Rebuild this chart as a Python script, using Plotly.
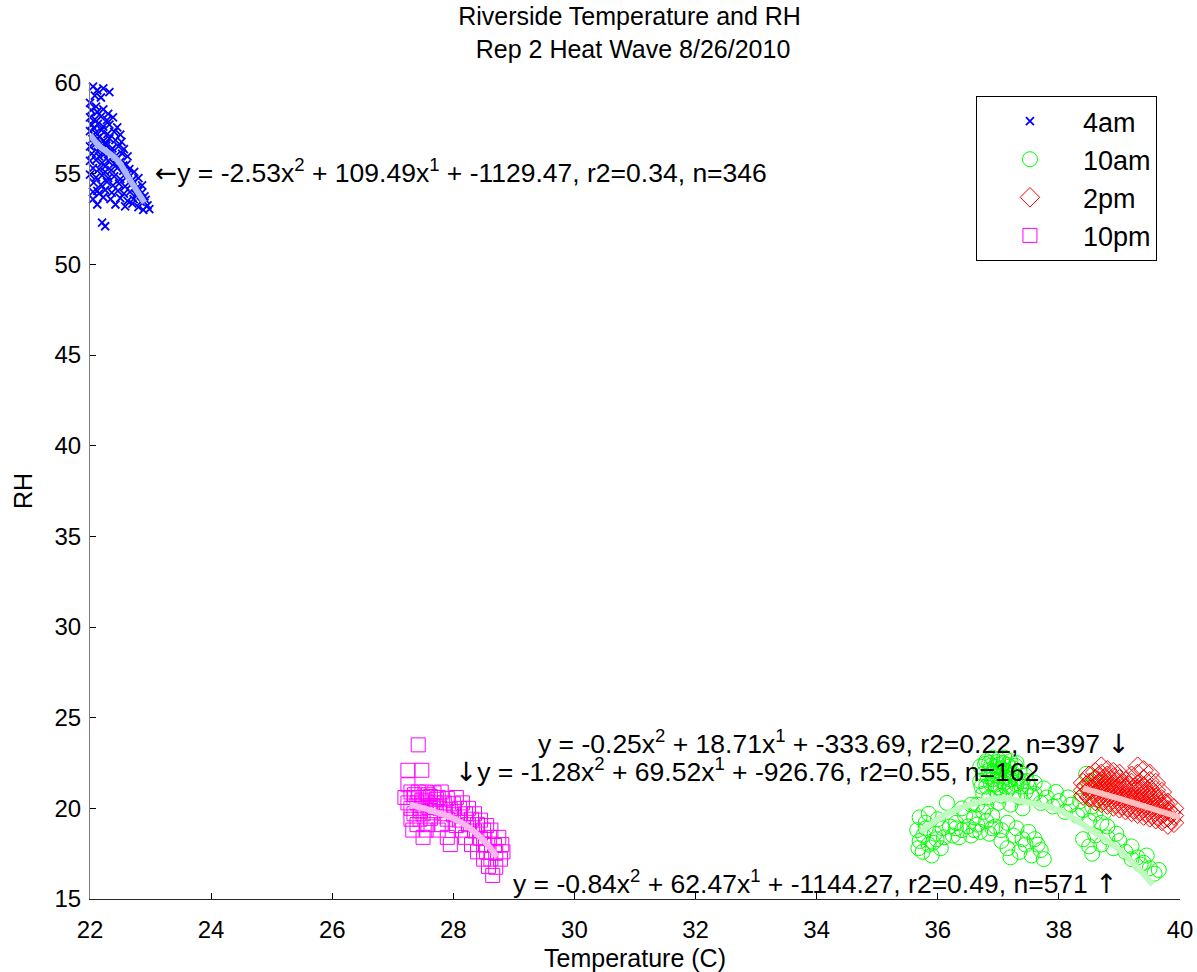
import plotly.graph_objects as go

# ---- measured temperature / RH pairs, one list per sampling hour ----
pts_4am = [
    (22.05, 59.8), (22.12, 59.6), (22.22, 59.7), (22.32, 59.5), (22.08, 59.3), (22.18, 59.2),
    (22.0, 58.9), (22.1, 58.7),
    (22.02, 58.5), (22.12, 58.4), (22.22, 58.55), (22.3, 58.3),
    (22.0, 58.1), (22.08, 58.0), (22.18, 58.15), (22.28, 57.95), (22.38, 58.1),
    (22.03, 57.7), (22.13, 57.75), (22.22, 57.6), (22.32, 57.7), (22.45, 57.55),
    (22.0, 57.35), (22.09, 57.25), (22.19, 57.4), (22.29, 57.2), (22.4, 57.3), (22.5, 57.15),
    (22.04, 56.9), (22.12, 56.95), (22.22, 56.8), (22.32, 56.95), (22.42, 56.85), (22.52, 56.75),
    (22.0, 56.5), (22.08, 56.6), (22.17, 56.45), (22.27, 56.55), (22.37, 56.4), (22.47, 56.5), (22.56, 56.35),
    (22.03, 56.1), (22.13, 56.2), (22.23, 56.05), (22.33, 56.15), (22.43, 56.0), (22.53, 56.1), (22.62, 55.95),
    (22.0, 55.7), (22.1, 55.75), (22.2, 55.6), (22.3, 55.7), (22.4, 55.55), (22.5, 55.65), (22.6, 55.5),
    (22.05, 55.3), (22.15, 55.25), (22.25, 55.4), (22.35, 55.2), (22.45, 55.3), (22.55, 55.15), (22.65, 55.25), (22.73, 55.1),
    (22.0, 54.95), (22.1, 54.8), (22.2, 54.9), (22.3, 54.75), (22.4, 54.85), (22.5, 54.7), (22.6, 54.8), (22.7, 54.65), (22.8, 54.75),
    (22.06, 54.5), (22.18, 54.4), (22.28, 54.55), (22.38, 54.35), (22.48, 54.45), (22.58, 54.3), (22.68, 54.4), (22.78, 54.25), (22.86, 54.35),
    (22.12, 54.05), (22.25, 54.1), (22.36, 53.95), (22.46, 54.05), (22.56, 53.9), (22.66, 54.0), (22.76, 53.85), (22.86, 53.95),
    (22.22, 53.7), (22.34, 53.6), (22.5, 53.65), (22.62, 53.5), (22.72, 53.6), (22.84, 53.45), (22.92, 53.55),
    (22.12, 53.3), (22.42, 53.3), (22.58, 53.2), (22.7, 53.35), (22.8, 53.15), (22.95, 53.25),
    (22.88, 53.0), (22.98, 53.05), (22.05, 53.6), (22.15, 53.9), (22.05, 54.0),
    (22.07, 57.5), (22.16, 57.05), (22.26, 56.65), (22.35, 56.3), (22.45, 55.85), (22.55, 55.45),
    (22.63, 55.0), (22.72, 54.5), (22.8, 54.05), (22.9, 53.75), (22.15, 55.95), (22.25, 55.1),
    (22.2, 52.3), (22.25, 52.1),
]

pts_10am = [
    # western group
    (35.7, 19.5), (35.85, 19.7), (36.0, 19.4), (35.66, 18.8), (35.8, 18.9), (35.95, 18.6), (36.08, 18.9),
    (35.7, 18.2), (35.85, 18.0), (35.98, 18.3), (35.75, 17.6), (35.9, 17.4), (36.05, 17.8), (35.68, 17.8),
    (36.15, 20.3), (36.2, 19.0), (36.25, 18.5), (35.8, 19.2), (35.92, 18.1), (35.76, 18.5), (36.1, 18.4),
    # middle band
    (36.3, 19.2), (36.4, 18.8), (36.5, 19.0), (36.55, 18.5), (36.65, 19.1), (36.7, 18.7), (36.8, 19.3),
    (36.85, 18.6), (36.95, 19.0), (37.05, 18.8), (37.15, 19.2), (36.35, 18.4), (36.45, 19.6), (36.6, 19.5),
    (36.75, 19.8), (36.9, 19.6), (36.4, 20.0), (36.55, 20.2), (36.3, 18.9), (36.6, 18.8), (36.9, 18.9),
    # upper blob
    (36.7, 22.3), (36.8, 22.6), (36.9, 22.8), (37.0, 22.7), (37.1, 22.8), (37.2, 22.6), (37.3, 22.5),
    (36.75, 21.9), (36.85, 22.1), (36.95, 22.3), (37.05, 22.2), (37.15, 22.0), (37.25, 22.2), (37.35, 22.0),
    (37.45, 21.8), (36.7, 21.5), (36.8, 21.2), (36.9, 21.6), (37.0, 21.8), (37.1, 21.4), (37.2, 21.6),
    (37.3, 21.3), (37.4, 21.5), (37.5, 21.2), (36.75, 20.8), (36.85, 20.6), (36.95, 21.0), (37.05, 20.7),
    (37.15, 21.0), (37.25, 20.8), (37.35, 20.6), (37.45, 20.9), (37.55, 20.7), (36.65, 20.2), (36.8, 20.1),
    (37.0, 20.3), (37.2, 20.2), (37.4, 20.0), (36.85, 22.5), (37.0, 22.4), (37.15, 22.4), (37.25, 21.9),
    (36.9, 21.9), (37.1, 22.1), (37.05, 21.5), (36.95, 21.3), (37.2, 21.2), (37.6, 21.4),
    (36.78, 22.45), (36.88, 22.35), (36.98, 22.55), (37.08, 22.5), (37.18, 22.3), (37.28, 22.35),
    (36.82, 21.75), (36.92, 22.05), (37.02, 22.0), (37.12, 21.7), (37.22, 21.85), (37.32, 21.65),
    (36.72, 21.2), (36.88, 21.35), (37.0, 21.15), (37.12, 21.2), (37.38, 21.2), (37.48, 21.5),
    # lower blob
    (37.05, 18.2), (37.15, 17.8), (37.25, 18.5), (37.35, 17.6), (37.45, 18.0), (37.55, 17.4), (37.6, 18.3),
    (37.7, 17.7), (37.75, 17.2), (37.3, 18.9), (37.5, 18.7), (37.2, 17.3), (37.4, 18.3), (37.65, 18.0),
    # band toward the east
    (37.6, 20.8), (37.7, 20.3), (37.8, 20.6), (37.9, 20.1), (38.0, 20.4), (38.1, 19.8), (38.2, 20.2),
    (38.3, 19.6), (38.4, 19.9), (38.5, 19.3), (38.6, 19.7), (38.7, 19.2), (38.8, 19.0), (37.75, 21.1),
    (37.95, 20.9), (38.15, 20.6), (38.35, 20.4), (38.55, 20.1), (38.75, 19.8), (38.45, 21.9), (38.6, 21.6),
    (38.75, 21.4), (38.5, 21.2),
    # lower east tail
    (38.4, 18.3), (38.5, 17.9), (38.6, 18.5), (38.7, 18.0), (38.8, 18.4), (38.9, 17.8), (39.0, 18.2),
    (39.1, 17.6), (39.2, 17.9), (39.3, 17.3), (39.4, 17.0), (39.5, 16.7), (39.58, 16.4), (39.65, 16.6),
    (39.45, 17.4), (39.2, 17.2), (38.95, 18.6), (38.55, 17.5), (39.35, 16.9),
]

pts_2pm = [
    (38.4, 21.0), (38.4, 21.4), (38.4, 20.7),
    (38.5, 20.6), (38.5, 21.0), (38.5, 21.4), (38.5, 21.8),
    (38.6, 20.4), (38.6, 20.8), (38.6, 21.2), (38.6, 21.6), (38.6, 22.0),
    (38.7, 20.3), (38.7, 20.7), (38.7, 21.1), (38.7, 21.5), (38.7, 21.9), (38.7, 22.3),
    (38.8, 20.2), (38.8, 20.6), (38.8, 21.0), (38.8, 21.4), (38.8, 21.8), (38.8, 22.1),
    (38.9, 20.1), (38.9, 20.5), (38.9, 20.9), (38.9, 21.3), (38.9, 21.7), (38.9, 22.0),
    (39.0, 20.0), (39.0, 20.4), (39.0, 20.8), (39.0, 21.2), (39.0, 21.6), (39.0, 21.9),
    (39.1, 19.9), (39.1, 20.3), (39.1, 20.7), (39.1, 21.1), (39.1, 21.5),
    (39.2, 19.8), (39.2, 20.2), (39.2, 20.6), (39.2, 21.0), (39.2, 21.4), (39.2, 21.8),
    (39.3, 19.7), (39.3, 20.1), (39.3, 20.5), (39.3, 20.9), (39.3, 21.3), (39.3, 21.9), (39.3, 22.3),
    (39.4, 19.6), (39.4, 20.0), (39.4, 20.4), (39.4, 20.8), (39.4, 21.2), (39.4, 21.6), (39.4, 22.1),
    (39.5, 19.5), (39.5, 19.9), (39.5, 20.3), (39.5, 20.7), (39.5, 21.1), (39.5, 21.5), (39.5, 21.9),
    (39.6, 19.4), (39.6, 19.8), (39.6, 20.2), (39.6, 20.6), (39.6, 21.0), (39.6, 21.4),
    (39.7, 19.3), (39.7, 19.7), (39.7, 20.1), (39.7, 20.5), (39.7, 20.9),
    (39.8, 19.1), (39.8, 19.5), (39.8, 19.9), (39.8, 20.3),
    (39.9, 19.2), (39.9, 19.6), (39.9, 20.0),
    (38.45, 20.85), (38.45, 21.25), (38.55, 20.65), (38.55, 21.05), (38.55, 21.45),
    (38.65, 20.55), (38.65, 20.95), (38.65, 21.35), (38.65, 21.75),
    (38.75, 20.45), (38.75, 20.85), (38.75, 21.25), (38.75, 21.65),
    (38.85, 20.35), (38.85, 20.75), (38.85, 21.15), (38.85, 21.55),
    (38.95, 20.25), (38.95, 20.65), (38.95, 21.05), (38.95, 21.45),
    (39.05, 20.15), (39.05, 20.55), (39.05, 20.95), (39.05, 21.35),
    (39.15, 20.05), (39.15, 20.45), (39.15, 20.85), (39.15, 21.25),
    (39.25, 19.95), (39.25, 20.35), (39.25, 20.75), (39.25, 21.15),
    (39.35, 19.85), (39.35, 20.25), (39.35, 20.65), (39.35, 21.05),
    (39.45, 19.75), (39.45, 20.15), (39.45, 20.55), (39.45, 20.95),
    (39.55, 19.65), (39.55, 20.05), (39.55, 20.45), (39.55, 20.85),
    (39.65, 19.55), (39.65, 19.95), (39.65, 20.35),
    (39.75, 19.45), (39.75, 19.85), (39.75, 20.25),
    (39.85, 19.35), (39.85, 19.75),
]

pts_10pm = [
    (27.42, 23.5), (27.25, 22.1), (27.48, 22.1), (27.25, 21.3),
    (27.3, 20.9), (27.42, 20.9), (27.55, 20.9), (27.68, 20.85), (27.8, 20.9),
    (27.2, 20.6), (27.35, 20.6), (27.5, 20.6), (27.62, 20.65), (27.75, 20.6), (27.9, 20.55), (28.05, 20.6),
    (27.25, 20.3), (27.4, 20.3), (27.55, 20.35), (27.7, 20.3), (27.85, 20.3), (28.0, 20.25), (28.15, 20.3),
    (27.3, 20.0), (27.45, 20.0), (27.6, 20.05), (27.78, 20.0), (27.95, 19.95), (28.1, 20.0), (28.25, 20.0),
    (27.35, 19.7), (27.5, 19.7), (27.65, 19.75), (27.85, 19.7), (28.0, 19.65), (28.2, 19.7), (28.35, 19.7),
    (27.3, 19.4), (27.45, 19.4), (27.62, 19.45), (27.9, 19.4), (28.1, 19.35), (28.3, 19.4), (28.45, 19.35),
    (27.4, 19.1), (27.58, 19.1), (27.8, 19.1), (28.05, 19.05), (28.25, 19.1), (28.4, 19.1), (28.55, 19.05),
    (27.33, 18.8), (27.55, 18.8), (27.75, 18.8), (28.15, 18.8), (28.35, 18.75), (28.5, 18.8), (28.62, 18.8),
    (27.5, 18.4), (27.9, 18.4), (28.2, 18.4), (28.45, 18.35), (28.6, 18.4), (28.75, 18.4),
    (27.95, 18.0), (28.3, 18.0), (28.5, 18.0), (28.68, 17.95), (28.8, 18.0),
    (28.4, 17.6), (28.55, 17.6), (28.7, 17.55), (28.82, 17.6),
    (28.5, 17.2), (28.62, 17.2), (28.78, 17.2),
    (28.58, 16.8), (28.7, 16.75), (28.65, 16.3),
    (27.36, 20.75), (27.48, 20.45), (27.58, 20.75), (27.66, 20.15), (27.72, 20.5), (27.46, 19.85),
]

# quadratic fit curves (temperature, RH) traced along each cluster
fit_4am = [(22.0, 57.15), (22.16, 56.5), (22.45, 55.75), (22.66, 54.65), (22.9, 53.4)]
fit_10am = [(35.72, 18.7), (36.15, 19.7), (36.7, 20.36), (37.03, 20.55), (37.52, 20.3),
            (38.0, 19.9), (38.35, 19.2), (39.0, 17.7), (39.55, 15.8)]
fit_2pm = [(38.4, 21.1), (39.17, 20.36), (40.0, 19.5)]
fit_10pm = [(27.28, 20.2), (27.61, 19.9), (28.06, 19.35), (28.44, 18.43), (28.72, 17.33)]

series = [
    ("4am", pts_4am, fit_4am, dict(symbol="x-thin", size=8, color="#0000ff",
                                    line=dict(width=1.8, color="#0000ff")), "rgb(170,180,250)"),
    ("10am", pts_10am, fit_10am, dict(symbol="circle-open", size=15, color="#00ff00",
                                      line=dict(width=1, color="#00ff00")), "rgb(192,250,192)"),
    ("2pm", pts_2pm, fit_2pm, dict(symbol="diamond-open", size=15, color="#ff0000",
                                   line=dict(width=1, color="#ff0000")), "rgb(255,190,190)"),
    ("10pm", pts_10pm, fit_10pm, dict(symbol="square-open", size=14, color="#ff00ff",
                                      line=dict(width=1, color="#ff00ff")), "rgb(250,180,240)"),
]

ARROW = "<span style='font-family:DejaVu Sans'>{}</span>"

# fit equations printed beside each cluster: (text, x, y, anchor)
fit_labels = [
    (ARROW.format("←") + "y = -2.53x<sup>2</sup> + 109.49x<sup>1</sup> + -1129.47, r2=0.34, n=346",
     23.04, 55.15, "left"),
    ("y = -0.25x<sup>2</sup> + 18.71x<sup>1</sup> + -333.69, r2=0.22, n=397 " + ARROW.format("↓"),
     39.2, 23.65, "right"),
    (ARROW.format("↓") + "y = -1.28x<sup>2</sup> + 69.52x<sup>1</sup> + -926.76, r2=0.55, n=162",
     27.99, 22.11, "left"),
    ("y = -0.84x<sup>2</sup> + 62.47x<sup>1</sup> + -1144.27, r2=0.49, n=571 " + ARROW.format("↑"),
     39.0, 15.93, "right"),
]

FONT = "Arial, 'Liberation Sans', Helvetica, sans-serif"

fig = go.Figure()
for name, pts, fit, marker, fit_color in series:
    xs, ys = zip(*pts)
    fig.add_trace(go.Scatter(x=list(xs), y=list(ys), mode="markers", name=name,
                             marker=marker, cliponaxis=False))
    fx, fy = zip(*fit)
    fig.add_trace(go.Scatter(x=list(fx), y=list(fy), mode="lines", showlegend=False,
                             line=dict(color=fit_color, width=6, shape="spline"),
                             hoverinfo="skip"))

for text, x, y, anchor in fit_labels:
    fig.add_annotation(x=x, y=y, text=text, showarrow=False, xanchor=anchor,
                       yanchor="middle", font=dict(family=FONT, size=26.5, color="black"))

fig.update_layout(
    width=1197, height=972,
    margin=dict(l=90, r=17, t=83, b=73),
    paper_bgcolor="white", plot_bgcolor="white",
    font=dict(family=FONT, size=24, color="black"),
    title=dict(text="Riverside Temperature and RH<br> Rep 2 Heat Wave 8/26/2010",
               x=0.495, xref="paper", xanchor="center",
               y=0.9738, yref="container", yanchor="top",
               font=dict(family=FONT, size=25, color="black")),
    legend=dict(x=0.8128, y=0.984, xanchor="left", yanchor="top",
                bgcolor="white", bordercolor="black", borderwidth=1,
                font=dict(family=FONT, size=27, color="black"),
                itemwidth=96, tracegroupgap=0),
    showlegend=True,
)

fig.update_xaxes(range=[22, 40], dtick=2, tick0=22, showgrid=False, zeroline=False,
                 showline=True, linecolor="#262626", linewidth=1, mirror=False,
                 ticks="inside", ticklen=6, tickcolor="black", tickwidth=1,
                 ticklabelstandoff=9, automargin=False,
                 tickfont=dict(family=FONT, size=24),
                 title=dict(text="Temperature (C)", standoff=10,
                            font=dict(family=FONT, size=25)))
fig.update_yaxes(range=[15, 60], dtick=5, tick0=15, showgrid=False, zeroline=False,
                 showline=True, linecolor="#808080", linewidth=1, mirror=False,
                 ticks="inside", ticklen=6, tickcolor="black", tickwidth=1,
                 ticklabelstandoff=3, automargin=False,
                 tickfont=dict(family=FONT, size=24),
                 title=dict(text="RH", standoff=14, font=dict(family=FONT, size=25)))

fig.write_html("out.html")
